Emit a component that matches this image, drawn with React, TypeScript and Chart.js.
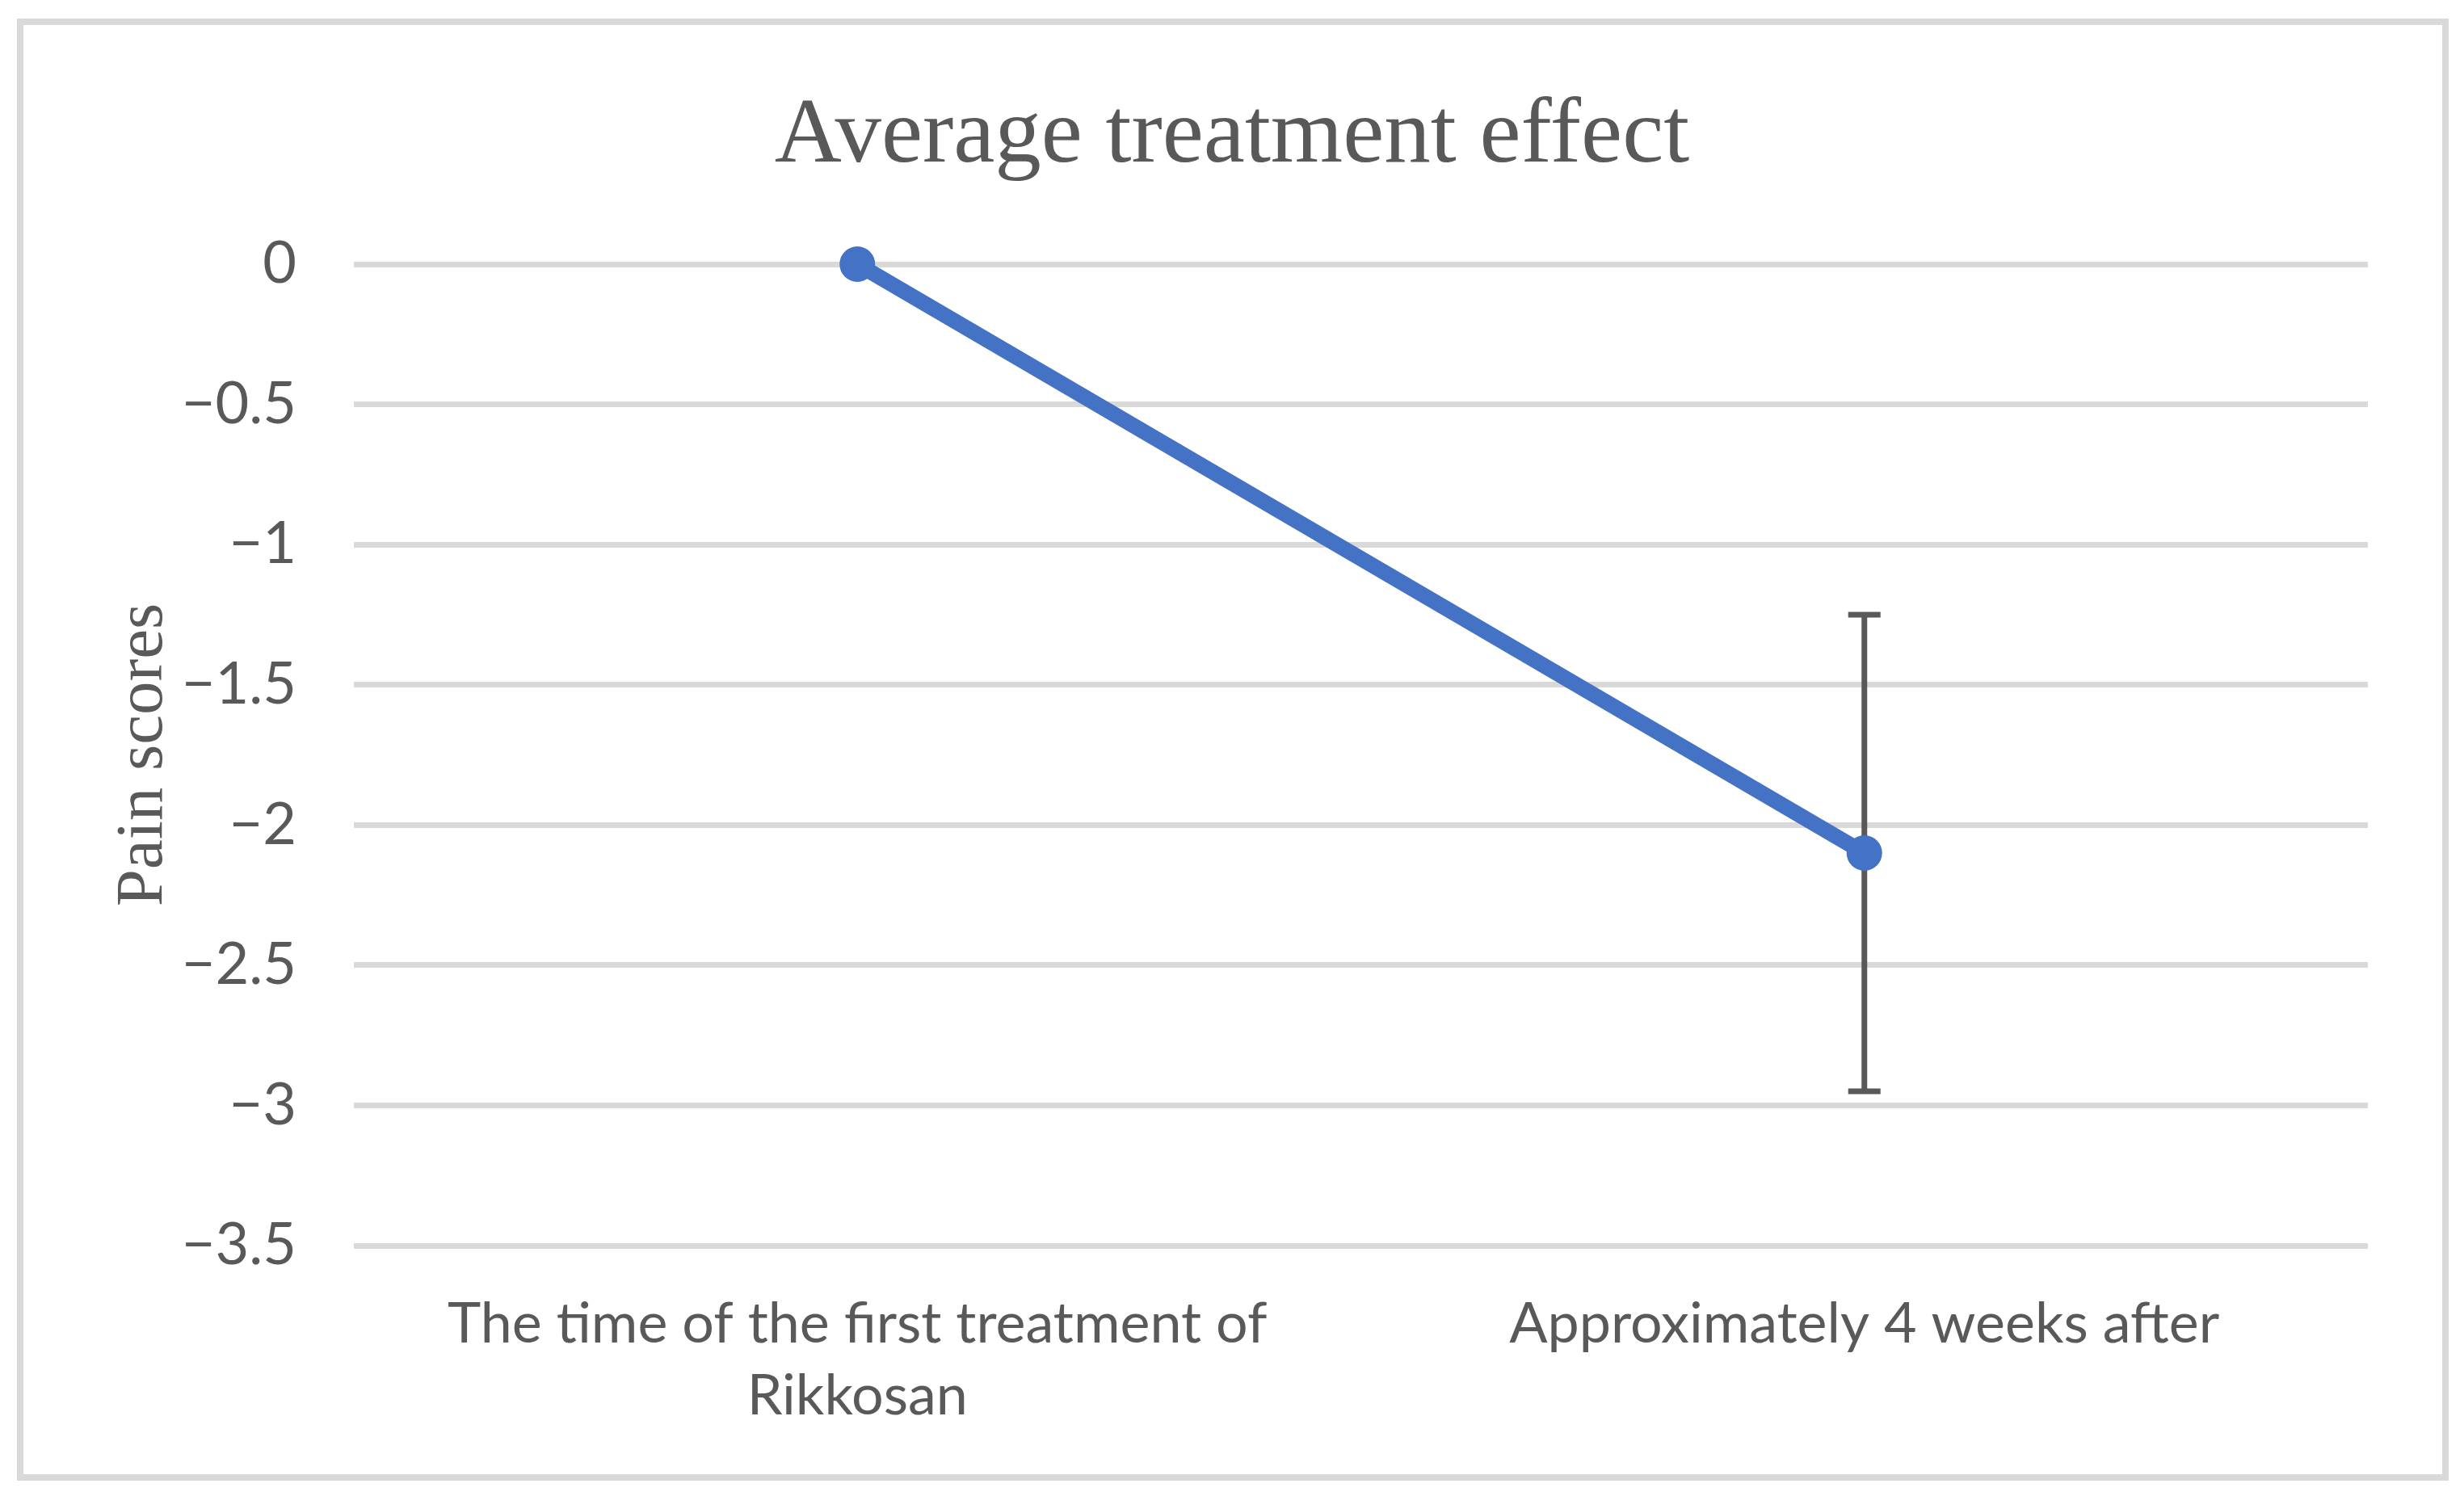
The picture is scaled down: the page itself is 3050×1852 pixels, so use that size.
import React, { useEffect, useRef } from "react";
import { Chart, registerables } from "chart.js";

Chart.register(...registerables);

const chartTitle = "Average treatment effect";
const yAxisTitle = "Pain scores";
const categories: string[][] = [
  ["The time of the first treatment of", "Rikkosan"],
  ["Approximately 4 weeks after"],
];
const painScores: number[] = [0, -2.1];
const errorMargins: (number | null)[] = [null, 0.85];
const yMin = -3.5;
const yMax = 0;
const yStep = 0.5;

const TEXT = "#595959";
const GRID = "#D9D9D9";
const BLUE = "#4472C4";

const errorBarPlugin = {
  id: "errorBars",
  beforeDatasetsDraw(chart: any) {
    const meta = chart.getDatasetMeta(0);
    const y = chart.scales.y;
    const ctx = chart.ctx;
    ctx.save();
    ctx.strokeStyle = TEXT;
    ctx.lineWidth = 7;
    ctx.lineCap = "butt";
    meta.data.forEach((pt: any, i: number) => {
      const m = errorMargins[i];
      if (m == null) return;
      const v = painScores[i];
      const top = y.getPixelForValue(v + m);
      const bot = y.getPixelForValue(v - m);
      const x = pt.x;
      const cap = 20;
      ctx.beginPath();
      ctx.moveTo(x, top);
      ctx.lineTo(x, bot);
      ctx.moveTo(x - cap, top);
      ctx.lineTo(x + cap, top);
      ctx.moveTo(x - cap, bot);
      ctx.lineTo(x + cap, bot);
      ctx.stroke();
    });
    ctx.restore();
  },
};

export default function App() {
  const ref = useRef<HTMLCanvasElement | null>(null);

  useEffect(() => {
    document.body.style.margin = "0";
    if (!ref.current) return;
    const chart = new Chart(ref.current, {
      type: "line",
      data: {
        labels: categories,
        datasets: [
          {
            data: painScores,
            borderColor: BLUE,
            backgroundColor: BLUE,
            borderWidth: 19,
            pointRadius: 22,
            pointHoverRadius: 22,
            pointBorderWidth: 0,
            pointBackgroundColor: BLUE,
            tension: 0,
            clip: false as any,
          },
        ],
      },
      options: {
        responsive: false,
        animation: false,
        devicePixelRatio: 1,
        layout: { padding: { left: 0, right: 0, top: 0, bottom: 0 } },
        plugins: {
          legend: { display: false },
          tooltip: { enabled: false },
          title: {
            display: true,
            text: chartTitle,
            color: TEXT,
            font: { family: "'Liberation Serif', 'Times New Roman', serif", size: 115, weight: "normal", lineHeight: 1.2 },
            padding: { top: 101, bottom: 88 },
          },
        },
        scales: {
          x: {
            offset: true,
            grid: { display: false, drawTicks: false },
            border: { display: false },
            ticks: {
              color: TEXT,
              padding: 53,
              maxRotation: 0,
              autoSkip: false,
              font: { family: "Lato, 'Liberation Sans', sans-serif", size: 70, lineHeight: 1.27 },
            },
            afterFit(scale: any) {
              scale.height = 310;
            },
          },
          y: {
            min: yMin,
            max: yMax,
            grid: { color: GRID, lineWidth: 7, drawTicks: false },
            border: { display: false },
            ticks: {
              stepSize: yStep,
              color: TEXT,
              padding: 71,
              font: { family: "Lato, 'Liberation Sans', sans-serif", size: 72 },
              callback: (v: any) => (Number(v) < 0 ? "\u2212" + Math.abs(Number(v)) : String(v)),
            },
            title: {
              display: true,
              text: yAxisTitle,
              color: TEXT,
              font: { family: "'Liberation Serif', 'Times New Roman', serif", size: 83, weight: "normal", lineHeight: 1.2 },
              padding: { top: 128, bottom: 0 },
            },
            afterFit(scale: any) {
              scale.width = 438;
            },
          },
          yRight: {
            position: "right",
            min: yMin,
            max: yMax,
            grid: { display: false, drawTicks: false },
            border: { display: false },
            ticks: { display: false },
            afterFit(scale: any) {
              scale.width = 119;
            },
          },
        },
      },
      plugins: [errorBarPlugin],
    });
    return () => chart.destroy();
  }, []);

  return (
    <div style={{ position: "relative", width: 3050, height: 1852, background: "#fff" }}>
      <canvas ref={ref} width={3050} height={1852} style={{ position: "absolute", left: 0, top: 0, width: 3050, height: 1852 }} />
      <div
        style={{
          position: "absolute",
          left: 21,
          top: 23,
          width: 3010,
          height: 1810,
          boxSizing: "border-box",
          border: "8px solid " + GRID,
          pointerEvents: "none",
        }}
      />
    </div>
  );
}
